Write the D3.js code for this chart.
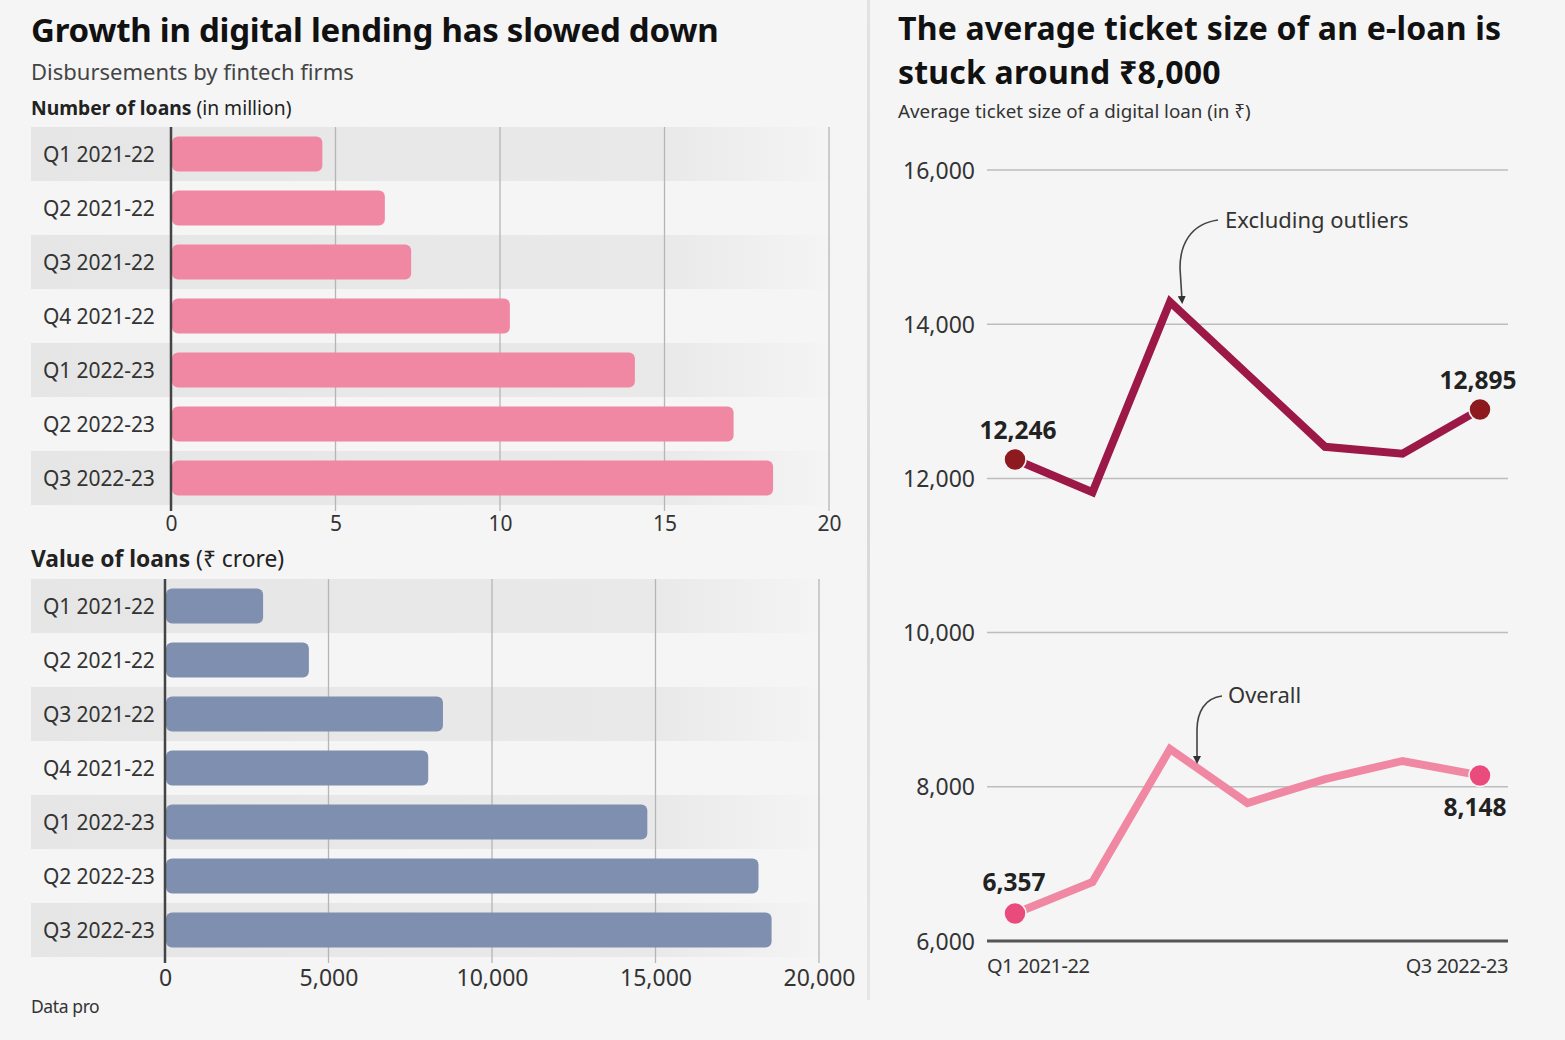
<!DOCTYPE html>
<html>
<head>
<meta charset="utf-8">
<script src="https://cdn.jsdelivr.net/npm/d3@7"></script>
<style>
  body { margin: 0; background: #f5f5f5; }
  svg { display: block; font-family: "Noto Sans", "Open Sans", sans-serif; }
</style>
</head>
<body>
<div id="root"></div>
<script>
const quarters = ["Q1 2021-22", "Q2 2021-22", "Q3 2021-22", "Q4 2021-22", "Q1 2022-23", "Q2 2022-23", "Q3 2022-23"];
const loanCounts = [4.6, 6.5, 7.3, 10.3, 14.1, 17.1, 18.3];        // million
const loanValues = [3000, 4400, 8500, 8050, 14750, 18150, 18550];  // Rs crore
const ticketExclOutliers = [12246, 11820, 14290, 13350, 12410, 12320, 12895];
const ticketOverall = [6357, 6765, 8490, 7790, 8100, 8335, 8148];
const countTicks = [0, 5, 10, 15, 20];
const valueTicks = [0, 5000, 10000, 15000, 20000];
const ticketTicks = [6000, 8000, 10000, 12000, 14000, 16000];

const width = 1565, height = 1040;
const svg = d3.select("#root").append("svg")
    .attr("width", width)
    .attr("height", height);

svg.append("rect").attr("width", width).attr("height", height).attr("fill", "#f5f5f5");

// band fade towards the right
const defs = svg.append("defs");
const grad = defs.append("linearGradient").attr("id", "bandFade");
grad.append("stop").attr("offset", "0%").attr("stop-color", "#e6e6e6");
grad.append("stop").attr("offset", "78%").attr("stop-color", "#e9e9e9");
grad.append("stop").attr("offset", "100%").attr("stop-color", "#f5f5f5");

// divider between panels
const divGrad = defs.append("linearGradient").attr("id", "divFade")
    .attr("x1", 0).attr("x2", 0).attr("y1", 0).attr("y2", 1);
divGrad.append("stop").attr("offset", "0%").attr("stop-color", "#e2e2e2");
divGrad.append("stop").attr("offset", "50%").attr("stop-color", "#d8d8d8");
divGrad.append("stop").attr("offset", "100%").attr("stop-color", "#e6e6e6");
svg.append("rect").attr("x", 867).attr("y", 0).attr("width", 3).attr("height", 1000)
    .attr("fill", "url(#divFade)");

// ---------- left panel titles ----------
svg.append("text").attr("x", 31).attr("y", 42)
    .attr("font-size", 33).attr("font-weight", 700).attr("fill", "#111")
    .attr("letter-spacing", -0.25)
    .text("Growth in digital lending has slowed down");
svg.append("text").attr("x", 31).attr("y", 80)
    .attr("font-size", 22).attr("fill", "#444")
    .text("Disbursements by fintech firms");

function header(y, bold, rest, size) {
    const t = svg.append("text").attr("x", 31).attr("y", y)
        .attr("font-size", size).attr("fill", "#222");
    t.append("tspan").attr("font-weight", 700).text(bold);
    t.append("tspan").text(rest);
}
header(115, "Number of loans", " (in million)", 19.3);
header(567, "Value of loans", " (\u20b9 crore)", 22.8);

// ---------- horizontal bar chart helper ----------
function barChart(opts) {
    const x = d3.scaleLinear().domain(opts.domain).range([opts.x0, opts.x1]);
    const y = d3.scaleBand().domain(quarters).range([opts.top, opts.top + 378]);
    const g = svg.append("g");

    g.selectAll(".band")
        .data(quarters.filter((q, i) => i % 2 === 0))
        .enter().append("rect")
        .attr("x", 31)
        .attr("y", d => y(d))
        .attr("width", opts.bandRight - 31)
        .attr("height", y.bandwidth())
        .attr("fill", "url(#bandFade)");

    // grid lines
    g.selectAll(".grid")
        .data(opts.ticks.slice(1))
        .enter().append("line")
        .attr("x1", d => x(d)).attr("x2", d => x(d))
        .attr("y1", opts.top).attr("y2", opts.top + 384)
        .attr("stroke", "#b5b5b5").attr("stroke-width", 1.3);

    g.selectAll(".bar")
        .data(opts.values)
        .enter().append("rect")
        .attr("x", x(0) + 1)
        .attr("y", (d, i) => y(quarters[i]) + (y.bandwidth() - 35) / 2)
        .attr("width", d => x(d) - x(0) - 1)
        .attr("height", 35)
        .attr("rx", 6)
        .attr("fill", opts.color);

    // axis line
    g.append("line")
        .attr("x1", x(0)).attr("x2", x(0))
        .attr("y1", opts.top).attr("y2", opts.top + 384)
        .attr("stroke", "#444").attr("stroke-width", 2.5);

    g.selectAll(".rowLabel")
        .data(quarters)
        .enter().append("text")
        .attr("x", 43)
        .attr("y", d => y(d) + y.bandwidth() / 2 + 8)
        .attr("font-size", 21).attr("fill", "#333").attr("letter-spacing", -0.1)
        .text(d => d);

    const axis = d3.axisBottom(x).tickValues(opts.ticks).tickSize(0).tickPadding(0)
        .tickFormat(opts.format);
    const ax = g.append("g")
        .attr("transform", `translate(0,${opts.top + 378})`)
        .call(axis);
    ax.select(".domain").remove();
    ax.selectAll("text")
        .attr("y", opts.labelY)
        .attr("dy", 0)
        .attr("font-size", opts.tickSize).attr("fill", "#333")
        .attr("font-family", "\"Noto Sans\", sans-serif");
}

barChart({
    values: loanCounts, domain: [0, 20], ticks: countTicks,
    x0: 171, x1: 829, top: 127, bandRight: 840,
    color: "#f088a4", format: d3.format(","), tickSize: 21, labelY: 26
});
barChart({
    values: loanValues, domain: [0, 20000], ticks: valueTicks,
    x0: 165, x1: 819, top: 579, bandRight: 830,
    color: "#7e8fb0", format: d3.format(","), tickSize: 23, labelY: 29
});

svg.append("text").attr("x", 31).attr("y", 1013)
    .attr("font-size", 17.5).attr("fill", "#333").attr("letter-spacing", -0.4)
    .text("Data pro");

// ---------- right panel: line chart ----------
svg.append("text").attr("x", 898).attr("y", 40)
    .attr("font-size", 32).attr("font-weight", 700).attr("fill", "#111")
    .attr("letter-spacing", 0.2)
    .text("The average ticket size of an e-loan is");
svg.append("text").attr("x", 898).attr("y", 84)
    .attr("font-size", 32).attr("font-weight", 700).attr("fill", "#111")
    .attr("letter-spacing", 0.2)
    .text("stuck around \u20b98,000");
svg.append("text").attr("x", 898).attr("y", 118)
    .attr("font-size", 18.8).attr("fill", "#333")
    .text("Average ticket size of a digital loan (in \u20b9)");

const lx = d3.scalePoint().domain(quarters).range([1015, 1480]);
const ly = d3.scaleLinear().domain([6000, 16000]).range([941, 170]);

const yAxis = d3.axisLeft(ly).tickValues(ticketTicks).tickSize(0).tickPadding(0)
    .tickFormat(d3.format(","));
const yg = svg.append("g").attr("transform", "translate(975,0)").call(yAxis);
yg.select(".domain").remove();
yg.selectAll("text")
    .attr("x", 0).attr("dy", "0.35em")
    .attr("font-size", 23).attr("fill", "#333")
    .attr("font-family", "\"Noto Sans\", sans-serif");

svg.selectAll(".hgrid")
    .data(ticketTicks.slice(1))
    .enter().append("line")
    .attr("x1", 987).attr("x2", 1508)
    .attr("y1", d => ly(d)).attr("y2", d => ly(d))
    .attr("stroke", "#bdbdbd").attr("stroke-width", 1.5);
svg.append("line")
    .attr("x1", 987).attr("x2", 1508)
    .attr("y1", ly(6000)).attr("y2", ly(6000))
    .attr("stroke", "#555").attr("stroke-width", 3);

svg.append("text").attr("x", 987).attr("y", 973)
    .attr("font-size", 20).attr("fill", "#333").attr("letter-spacing", -0.5)
    .text(quarters[0]);
svg.append("text").attr("x", 1508).attr("y", 973).attr("text-anchor", "end")
    .attr("font-size", 20).attr("fill", "#333").attr("letter-spacing", -0.5)
    .text(quarters[quarters.length - 1]);

const line = d3.line()
    .x((d, i) => lx(quarters[i]))
    .y(d => ly(d));

function drawSeries(values, lineColor, dotColor, labels) {
    svg.append("path")
        .datum(values)
        .attr("fill", "none")
        .attr("stroke", lineColor)
        .attr("stroke-width", 8)
        .attr("stroke-linejoin", "miter")
        .attr("d", line);
    const ends = [0, values.length - 1];
    svg.selectAll(null)
        .data(ends)
        .enter().append("circle")
        .attr("cx", i => lx(quarters[i]))
        .attr("cy", i => ly(values[i]))
        .attr("r", 11)
        .attr("fill", dotColor)
        .attr("stroke", "#f5f5f5").attr("stroke-width", 1.5);
    svg.selectAll(null)
        .data(ends)
        .enter().append("text")
        .attr("x", (i, k) => lx(quarters[i]) + labels[k].dx)
        .attr("y", (i, k) => ly(values[i]) + labels[k].dy)
        .attr("text-anchor", "middle")
        .attr("font-size", 24.5).attr("font-weight", 700).attr("fill", "#222")
        .text(i => d3.format(",")(values[i]));
}

drawSeries(ticketExclOutliers, "#9c1846", "#8c1a1f",
    [{dx: 3, dy: -20}, {dx: -2, dy: -20}]);
drawSeries(ticketOverall, "#f088a4", "#e94c7c",
    [{dx: -1, dy: -22}, {dx: -5, dy: 41}]);

// annotations with curved arrows
defs.append("marker")
    .attr("id", "arrow")
    .attr("viewBox", "0 0 10 10")
    .attr("refX", 5).attr("refY", 5)
    .attr("markerWidth", 5).attr("markerHeight", 5)
    .attr("orient", "auto")
    .append("path").attr("d", "M0,0 L10,5 L0,10 z").attr("fill", "#333");

function annotate(text, tx, ty, path) {
    svg.append("path")
        .attr("d", path)
        .attr("fill", "none")
        .attr("stroke", "#444").attr("stroke-width", 1.6)
        .attr("marker-end", "url(#arrow)");
    svg.append("text").attr("x", tx).attr("y", ty)
        .attr("font-size", 22).attr("fill", "#333")
        .text(text);
}
annotate("Excluding outliers", 1225, 228,
    "M1218,220 C1190,224 1180,245 1180,268 L1182,300");
annotate("Overall", 1228, 703,
    "M1222,696 C1205,698 1197,712 1197,730 L1197,760");
</script>
</body>
</html>
